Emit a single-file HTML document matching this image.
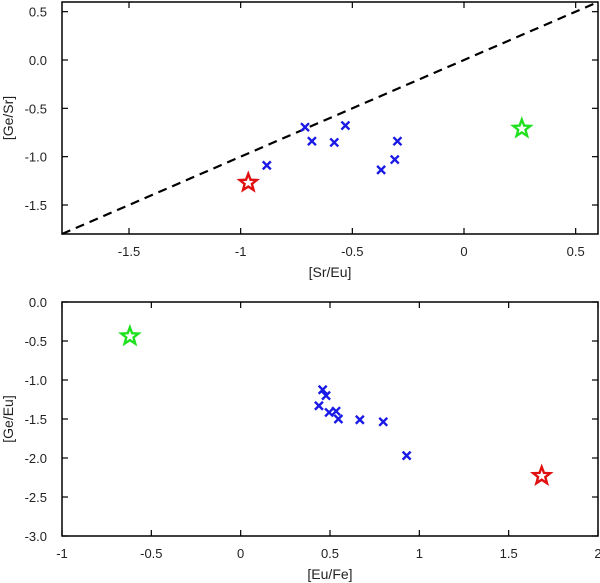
<!DOCTYPE html>
<html><head><meta charset="utf-8"><style>
body{margin:0;background:#fff}
svg{display:block;font-family:"Liberation Sans",sans-serif}
</style></head><body>
<svg id="c" width="600" height="583"></svg>
<script>
const topCrossX=[-0.883,-0.712,-0.681,-0.581,-0.531,-0.371,-0.31,-0.298];
const topCrossY=[-1.09,-0.695,-0.84,-0.853,-0.678,-1.137,-1.03,-0.84];
const topRedStar=[-0.966,-1.27];
const topGreenStar=[0.259,-0.71];
const topXTicks=[-1.5,-1,-0.5,0,0.5];
const topXLabels=["-1.5","-1","-0.5","0","0.5"];
const topYTicks=[0.5,0,-0.5,-1,-1.5];
const topYLabels=["0.5","0.0","-0.5","-1.0","-1.5"];
const botCrossX=[0.459,0.478,0.438,0.495,0.534,0.547,0.667,0.798,0.929];
const botCrossY=[-1.125,-1.2,-1.33,-1.416,-1.4,-1.5,-1.51,-1.536,-1.97];
const botRedStar=[1.685,-2.23];
const botGreenStar=[-0.62,-0.44];
const botXTicks=[-1,-0.5,0,0.5,1,1.5,2];
const botXLabels=["-1","-0.5","0","0.5","1","1.5","2"];
const botYTicks=[0,-0.5,-1,-1.5,-2,-2.5,-3];
const botYLabels=["0.0","-0.5","-1.0","-1.5","-2.0","-2.5","-3.0"];

const NS="http://www.w3.org/2000/svg";
const svg=document.getElementById('c');
function mk(tag,attrs,parent){const e=document.createElementNS(NS,tag);for(const k in attrs)e.setAttribute(k,attrs[k]);(parent||svg).appendChild(e);return e;}

function panel(p){
  const g=mk('g',{});
  
  
  const sx=v=>p.x0+(v-p.xmin)/(p.xmax-p.xmin)*(p.x1-p.x0);
  const sy=v=>p.y1-(v-p.ymin)/(p.ymax-p.ymin)*(p.y1-p.y0);
  const fr=mk('rect',{x:p.x0,y:p.y0,width:p.x1-p.x0,height:p.y1-p.y0,fill:'none',stroke:'#000','stroke-width':1.5},g);
  
  
  p.xt.forEach((v,i)=>{
    const x=sx(v);
    mk('line',{x1:x,x2:x,y1:p.y1,y2:p.y1-6,stroke:'#000','stroke-width':1.2},g);
    mk('line',{x1:x,x2:x,y1:p.y0,y2:p.y0+6,stroke:'#000','stroke-width':1.2},g);
    const t=mk('text',{x:x,y:p.y1+22,'text-anchor':'middle','font-size':13,fill:'#222'},g);
    t.textContent=p.xl[i];
    
    
  });
  p.yt.forEach((v,i)=>{
    const y=sy(v);
    mk('line',{x1:p.x0,x2:p.x0+6,y1:y,y2:y,stroke:'#000','stroke-width':1.2},g);
    mk('line',{x1:p.x1,x2:p.x1-6,y1:y,y2:y,stroke:'#000','stroke-width':1.2},g);
    const t=mk('text',{x:p.x0-15,y:y+5,'text-anchor':'end','font-size':13,fill:'#222'},g);
    t.textContent=p.yl[i];
    
    
  });
  const xt=mk('text',{x:(p.x0+p.x1)/2,y:p.y1+43,'text-anchor':'middle','font-size':14,fill:'#222'},g);
  xt.textContent=p.xtitle;
  
  
  const cy=(p.y0+p.y1)/2;
  const yt=mk('text',{x:13,y:cy,'text-anchor':'middle','font-size':14,fill:'#222',transform:`rotate(-90 13 ${cy})`},g);
  yt.textContent=p.ytitle;
  
  
  if(p.diag){
    const l=mk('line',{x1:sx(p.xmin),y1:sy(p.xmin),x2:sx(p.xmax),y2:sy(p.xmax),stroke:'#000','stroke-width':2.2,'stroke-dasharray':'9,6'},g);
    
    
  }
  p.cx.forEach((v,i)=>{
    const x=sx(v),y=sy(p.cy[i]),s=4;
    const c=mk('path',{d:`M${x-s},${y-s}L${x+s},${y+s}M${x-s},${y+s}L${x+s},${y-s}`,stroke:'#1a1ae6','stroke-width':2.4,fill:'none'},g);
    
    
  });
  [[p.red,'#e01010','red-star'],[p.green,'#20e020','green-star']].forEach(([d,col,nm])=>{
    const x=sx(d[0]),y=sy(d[1]);let pts=[];
    for(let k=0;k<10;k++){const r=k%2?3.8:9,a=-Math.PI/2+k*Math.PI/5;pts.push((x+r*Math.cos(a)).toFixed(1)+','+(y+r*Math.sin(a)).toFixed(1));}
    const s=mk('polygon',{points:pts.join(' '),fill:'none',stroke:col,'stroke-width':2.4},g);
    
    
  });
}
panel({name:'top-panel',x0:62,x1:598,y0:2,y1:234,xmin:-1.8,xmax:0.6,ymin:-1.8,ymax:0.6,
  xt:topXTicks,xl:topXLabels,yt:topYTicks,yl:topYLabels,xtitle:'[Sr/Eu]',ytitle:'[Ge/Sr]',diag:true,
  cx:topCrossX,cy:topCrossY,red:topRedStar,green:topGreenStar});
panel({name:'bottom-panel',x0:62,x1:598,y0:302,y1:536,xmin:-1,xmax:2,ymin:-3,ymax:0,
  xt:botXTicks,xl:botXLabels,yt:botYTicks,yl:botYLabels,xtitle:'[Eu/Fe]',ytitle:'[Ge/Eu]',diag:false,
  cx:botCrossX,cy:botCrossY,red:botRedStar,green:botGreenStar});
</script>
</body></html>
